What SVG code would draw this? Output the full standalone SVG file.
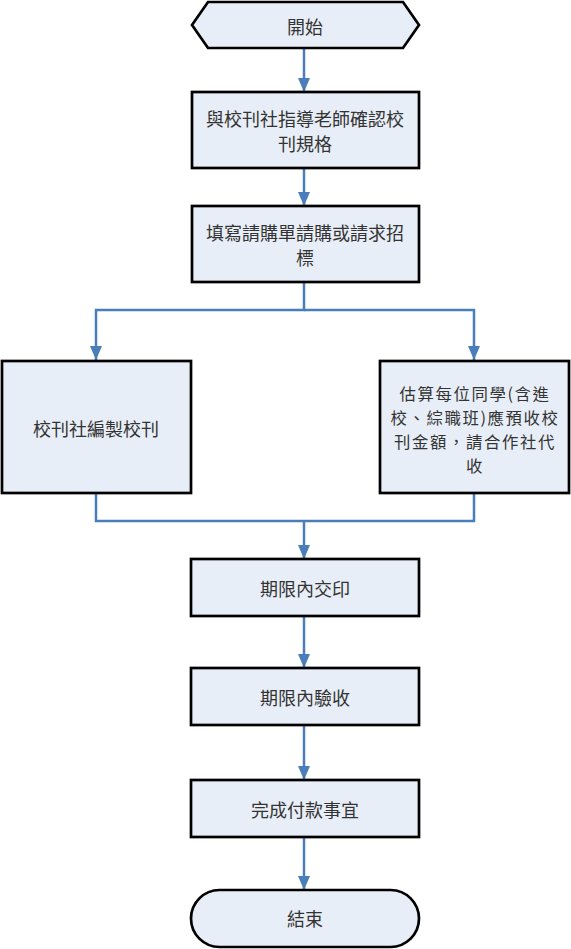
<svg xmlns="http://www.w3.org/2000/svg" width="571" height="949" viewBox="0 0 571 949">
<style>
.n{fill:#E8EEF7;stroke:#000;stroke-width:2.7}
.t{font-family:"Noto Sans CJK TC","Noto Sans CJK SC",sans-serif;font-size:18px;fill:#333;text-anchor:middle;dominant-baseline:central}
.s{font-size:16.4px;letter-spacing:1.6px}
.c{fill:none;stroke:#4A7EBB;stroke-width:2.5}
</style>
<defs>
<marker id="a" markerUnits="userSpaceOnUse" markerWidth="14" markerHeight="14" viewBox="0 0 14 14" refX="14" refY="7" orient="auto">
<path d="M0,1 L14,7 L0,13 Z" fill="#4A7EBB"/>
</marker>
</defs>
<rect width="571" height="949" fill="#fff"/>
<g id="connectors">
<path class="c" d="M304,49 V92" marker-end="url(#a)"/>
<path class="c" d="M304,168 V206" marker-end="url(#a)"/>
<path class="c" d="M304,282 V310 H96 V360" marker-end="url(#a)"/>
<path class="c" d="M304,310 H474 V360" marker-end="url(#a)"/>
<path class="c" d="M96,493 V521 H474 V493"/>
<path class="c" d="M304,521 V559" marker-end="url(#a)"/>
<path class="c" d="M304,616 V668" marker-end="url(#a)"/>
<path class="c" d="M304,725 V780" marker-end="url(#a)"/>
<path class="c" d="M304,837 V890" marker-end="url(#a)"/>
</g>
<g id="start">
<polygon class="n" points="208,2 403,2 419,25 403,48 208,48 192,25"/>
<text class="t" x="305" y="26">開始</text>
</g>
<g id="confirm">
<rect class="n" x="192" y="92" width="227" height="76"/>
<text class="t"><tspan x="305" y="118">與校刊社指導老師確認校</tspan><tspan x="305" y="143">刊規格</tspan></text>
</g>
<g id="request">
<rect class="n" x="192" y="206" width="227" height="76"/>
<text class="t"><tspan x="305" y="232">填寫請購單請購或請求招</tspan><tspan x="305" y="257">標</tspan></text>
</g>
<g id="edit">
<rect class="n" x="2" y="361" width="189" height="132"/>
<text class="t" x="96" y="428">校刊社編製校刊</text>
</g>
<g id="estimate">
<rect class="n" x="380" y="361" width="189" height="132"/>
<text class="t s"><tspan x="475" y="393">估算每位同學(含進</tspan><tspan x="475" y="417">校、綜職班)應預收校</tspan><tspan x="475" y="441">刊金額，請合作社代</tspan><tspan x="475" y="465">收</tspan></text>
</g>
<g id="print">
<rect class="n" x="191" y="559" width="228" height="57"/>
<text class="t" x="305" y="588">期限內交印</text>
</g>
<g id="accept">
<rect class="n" x="191" y="668" width="228" height="57"/>
<text class="t" x="305" y="697">期限內驗收</text>
</g>
<g id="pay">
<rect class="n" x="191" y="780" width="228" height="57"/>
<text class="t" x="305" y="809">完成付款事宜</text>
</g>
<g id="end">
<rect class="n" x="191" y="890" width="228" height="57" rx="28.5"/>
<text class="t" x="305" y="918">結束</text>
</g>
</svg>
